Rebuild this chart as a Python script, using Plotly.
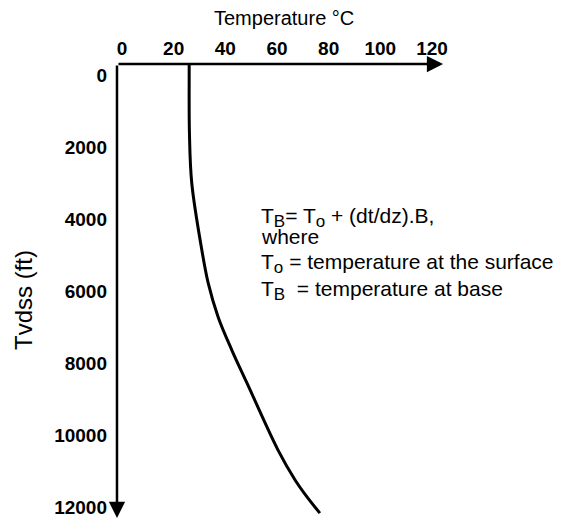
import plotly.graph_objects as go

# ---- data ----
temperature_c = [26.0, 26.0, 26.1, 27.0, 30.9, 33.4, 37.2, 42.5, 48.4, 60.4, 67.0, 71.6, 76.6]
depth_ft = [-280, 0, 1600, 3000, 4860, 5790, 6720, 7640, 8560, 10420, 11250, 11720, 12170]

x_ticks = [0, 20, 40, 60, 80, 100, 120]
y_ticks = [0, 2000, 4000, 6000, 8000, 10000, 12000]
y_tick_text = [str(v) for v in y_ticks]

# ---- layout constants ----
X_RANGE = [-5.42, 130.84]
Y_RANGE = [12389, -306]
AXIS_X0 = -1.94          # temperature where the vertical axis is drawn
AXIS_Y0 = -306           # depth where the horizontal axis is drawn
X_ARROW_END = 124.3
Y_ARROW_END = 12306

FONT = "Liberation Sans, Arial, sans-serif"

fig = go.Figure()
fig.add_trace(go.Scatter(
    x=temperature_c, y=depth_ft, mode="lines",
    line=dict(color="black", width=3, shape="spline", smoothing=1.0),
    cliponaxis=False, showlegend=False, hoverinfo="skip",
))

annotations = [
    # horizontal axis arrow
    dict(x=X_ARROW_END, y=AXIS_Y0, ax=AXIS_X0, ay=AXIS_Y0,
         xref="x", yref="y", axref="x", ayref="y", text="",
         showarrow=True, arrowhead=2, arrowsize=1.3, arrowwidth=2.5,
         arrowcolor="black", standoff=0, startstandoff=0),
    # vertical axis arrow
    dict(x=AXIS_X0, y=Y_ARROW_END, ax=AXIS_X0, ay=AXIS_Y0,
         xref="x", yref="y", axref="x", ayref="y", text="",
         showarrow=True, arrowhead=2, arrowsize=1.3, arrowwidth=2.5,
         arrowcolor="black", standoff=0, startstandoff=0),
    # axis titles
    dict(x=0.5, y=1.1007, xref="paper", yref="paper", text="Temperature °C",
         showarrow=False, xanchor="center", yanchor="middle",
         font=dict(family=FONT, size=20, color="black")),
    dict(x=-0.2386, y=0.4836, xref="paper", yref="paper", text="Tvdss (ft)",
         showarrow=False, xanchor="center", yanchor="middle", textangle=-90,
         font=dict(family=FONT, size=24, color="black")),
]

SUB = '<sub><span style="font-size:17px">{}</span></sub>'
eq_lines = [
    ("T" + SUB.format("B") + "= T" + SUB.format("o") + " + (dt/dz).B,", 217),
    ("where", 236),
    ("T" + SUB.format("o") + " = temperature at the surface", 263),
    ("T" + SUB.format("B") + "  = temperature at base", 290),
]
for txt, ypx in eq_lines:
    annotations.append(dict(
        x=(259 - 108) / 352, y=(521 - ypx) / 457, xref="paper", yref="paper",
        text=txt, showarrow=False, xanchor="left", yanchor="middle",
        font=dict(family=FONT, size=21, color="black")))

fig.update_layout(
    width=564, height=521,
    margin=dict(l=108, r=104, t=64, b=0, pad=0),
    paper_bgcolor="white", plot_bgcolor="white",
    xaxis=dict(side="top", range=X_RANGE, tickvals=x_ticks, ticks="",
               showline=False, showgrid=False, zeroline=False,
               ticklabelstandoff=4,
               tickfont=dict(family=FONT, size=19, color="black", weight="bold")),
    yaxis=dict(range=Y_RANGE, tickvals=y_ticks, ticktext=y_tick_text, ticks="",
               showline=False, showgrid=False, zeroline=False,
               tickfont=dict(family=FONT, size=19, color="black", weight="bold")),
    annotations=annotations,
)

fig.write_html("out.html")
